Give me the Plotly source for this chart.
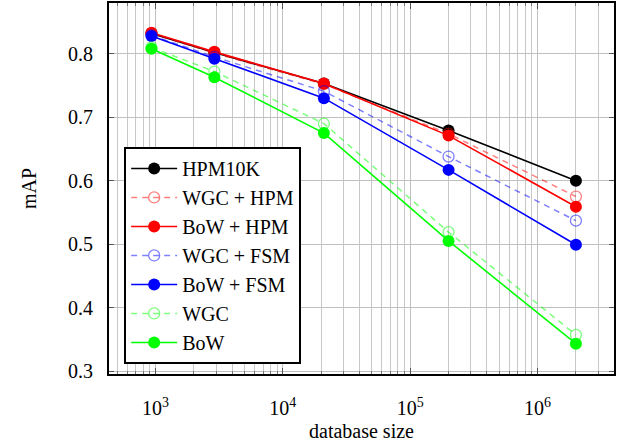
import plotly.graph_objects as go

db_size = [930, 2900, 21000, 200000, 2000000]

hpm10k = [0.832, 0.802, 0.753, 0.679, 0.600]
wgc_hpm = [0.832, 0.801, 0.752, 0.674, 0.575]
bow_hpm = [0.833, 0.803, 0.753, 0.671, 0.559]
wgc_fsm = [0.829, 0.795, 0.741, 0.638, 0.537]
bow_fsm = [0.828, 0.792, 0.730, 0.617, 0.499]
wgc = [0.810, 0.772, 0.690, 0.519, 0.357]
bow = [0.808, 0.763, 0.675, 0.505, 0.343]

series_names = ["HPM10K", "WGC + HPM", "BoW + HPM", "WGC + FSM", "BoW + FSM", "WGC", "BoW"]
series_values = [hpm10k, wgc_hpm, bow_hpm, wgc_fsm, bow_fsm, wgc, bow]
series_colors = ["#000000", "rgba(255,0,0,0.5)", "#ff0000", "rgba(0,0,255,0.5)",
                 "#0000ff", "rgba(0,255,0,0.5)", "#00ff00"]
series_dashed = [False, True, False, True, False, True, False]

y_ticks = [0.3, 0.4, 0.5, 0.6, 0.7, 0.8]
x_major = [10 ** e for e in range(3, 7)]
x_major_text = [f"10<sup>{e}</sup>" for e in range(3, 7)]
x_minor = [m * 10 ** e for e in range(2, 7) for m in range(2, 10)]

FONT = "Liberation Serif"

fig = go.Figure()
for name, vals, col, dashed in zip(series_names, series_values, series_colors, series_dashed):
    if dashed:
        marker = dict(symbol="circle-open", size=11, color=col, line=dict(width=1.3, color=col))
        line = dict(color=col, width=1.5, dash="6px,5px")
    else:
        marker = dict(symbol="circle", size=12, color=col, line=dict(width=0))
        line = dict(color=col, width=1.6)
    fig.add_trace(go.Scatter(x=db_size, y=vals, name=name, mode="lines+markers",
                             line=line, marker=marker))

fig.update_layout(
    width=617, height=444,
    margin=dict(l=109, r=3, t=3, b=70),
    paper_bgcolor="white", plot_bgcolor="white",
    font=dict(family=FONT, size=20, color="black"),
    showlegend=True,
    legend=dict(x=0.03, y=0.612, xanchor="left", yanchor="top",
                bordercolor="black", borderwidth=2, bgcolor="white",
                font=dict(family=FONT, size=20), traceorder="normal",
                itemwidth=46),
)
fig.update_xaxes(
    type="log", range=[2.635, 6.60],
    tickvals=x_major, ticktext=x_major_text,
    showgrid=True, gridcolor="#c0c0c0", gridwidth=1,
    ticks="inside", ticklen=6, tickcolor="#555555",
    minor=dict(tickvals=x_minor, showgrid=True, gridcolor="#c8c8c8", gridwidth=1,
               ticks="inside", ticklen=3, tickcolor="#777777"),
    showline=True, linecolor="black", linewidth=2, mirror="allticks",
    ticklabelstandoff=15, zeroline=False, automargin=False,
    title=dict(text="database size", standoff=6, font=dict(size=20)),
)
fig.update_yaxes(
    range=[0.2953, 0.880],
    tickvals=y_ticks, ticktext=[f"{v:.1f}" for v in y_ticks],
    showgrid=True, gridcolor="#c0c0c0", gridwidth=1,
    ticks="inside", ticklen=5, tickcolor="#555555",
    showline=True, linecolor="black", linewidth=2, mirror="allticks",
    ticklabelstandoff=10, zeroline=False, automargin=False,
    title=dict(text="mAP", standoff=26, font=dict(size=20)),
)

fig.write_html("out.html", config={"displayModeBar": False},
               post_script="document.body.style.margin='0';")
